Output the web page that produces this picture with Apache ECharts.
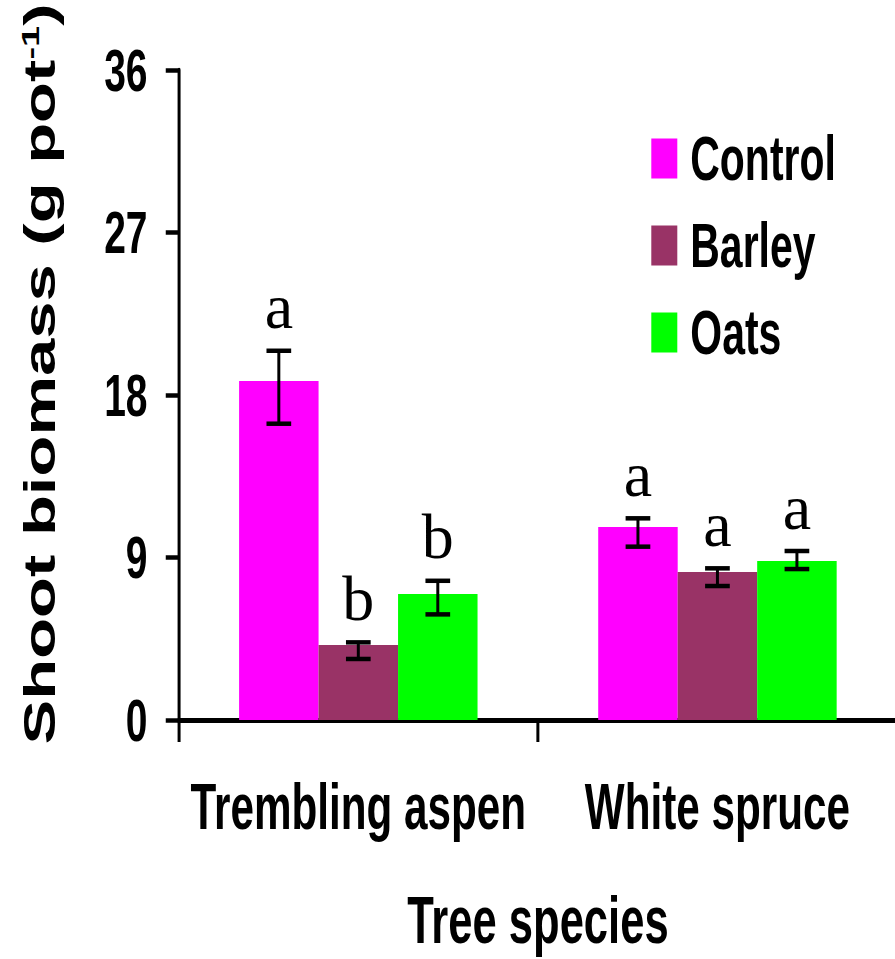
<!DOCTYPE html>
<html>
<head>
<meta charset="utf-8">
<script src="https://cdn.jsdelivr.net/npm/echarts@6/dist/echarts.min.js"></script>
<style>
  html, body { margin: 0; padding: 0; background: #fff; overflow: hidden; width: 895px; height: 959px; }
  /* The figure is drawn wide and squeezed horizontally, giving the narrow lettering of the original plot */
  #chart { width: 1377px; height: 959px; transform: scaleX(0.65); transform-origin: 0 0; }
</style>
</head>
<body>
<div id="chart"></div>
<script>
// ---- data ----
const species = ['Trembling aspen', 'White spruce'];
const treatments = ['Control', 'Barley', 'Oats'];

const controlMean = [18.77, 10.69];
const barleyMean  = [4.15, 8.20];
const oatsMean    = [6.98, 8.81];

// upper / lower ends of the error bars
const controlUpper = [20.45, 11.17];
const controlLower = [16.41, 9.60];
const barleyUpper  = [4.30, 8.40];
const barleyLower  = [3.38, 7.42];
const oatsUpper    = [7.71, 9.36];
const oatsLower    = [5.85, 8.36];

// letters from the mean-separation test
const controlLetters = ['a', 'a'];
const barleyLetters  = ['b', 'a'];
const oatsLetters    = ['b', 'a'];

const yMin = 0, yMax = 36, yStep = 9;

// ---- drawing ----
const SX = 0.65;            // horizontal squeeze applied to the container
const CAT_GAP = 0.336;      // gap between bar groups, share of category width
const FONT = '"Liberation Sans", Arial, sans-serif';
const colors = ['#FF00FF', '#993366', '#00FF00'];

const means   = [controlMean, barleyMean, oatsMean];
const uppers  = [controlUpper, barleyUpper, oatsUpper];
const lowers  = [controlLower, barleyLower, oatsLower];
const letters = [controlLetters, barleyLetters, oatsLetters];

const barSeries = treatments.map((t, k) => ({
  name: t,
  type: 'bar',
  data: means[k],
  barGap: '0%',
  barCategoryGap: (CAT_GAP * 100) + '%',
  itemStyle: { color: colors[k] },
  emphasis: { disabled: true },
  z: 2
}));

const errSeries = treatments.map((t, k) => ({
  name: t + ' error',
  type: 'custom',
  z: 5,
  silent: true,
  data: species.map((_, i) => [i, means[k][i], uppers[k][i], lowers[k][i]]),
  encode: { x: 0, y: [1, 2, 3] },
  renderItem(params, api) {
    const i = api.value(0);
    const band = api.size([1, 0])[0];
    const barW = band * (1 - CAT_GAP) / 3;
    const cx = api.coord([i, 0])[0] + (k - 1) * barW;
    const yHi = api.coord([i, api.value(2)])[1];
    const yLo = api.coord([i, api.value(3)])[1];
    const cap = 19;
    return {
      type: 'group',
      children: [
        { type: 'line', shape: { x1: cx, y1: yHi, x2: cx, y2: yLo }, style: { stroke: '#000', lineWidth: 4.6 } },
        { type: 'line', shape: { x1: cx - cap, y1: yHi, x2: cx + cap, y2: yHi }, style: { stroke: '#000', lineWidth: 4.5 } },
        { type: 'line', shape: { x1: cx - cap, y1: yLo, x2: cx + cap, y2: yLo }, style: { stroke: '#000', lineWidth: 4.5 } },
        {
          type: 'text', x: cx, y: yHi - 12, scaleX: 1 / SX,
          style: {
            text: letters[k][params.dataIndex], x: 0, y: 0,
            align: 'center', verticalAlign: 'bottom',
            fontSize: 64, fontFamily: '"Liberation Serif", "Times New Roman", serif',
            fill: '#000'
          }
        }
      ]
    };
  }
}));

const chart = echarts.init(document.getElementById('chart'), null, { renderer: 'svg' });
chart.setOption({
  animation: false,
  backgroundColor: '#fff',
  grid: { left: 275, top: 70, width: 1105, height: 650, containLabel: false, outerBoundsMode: 'none' },
  legend: {
    data: treatments,
    orient: 'vertical',
    left: 997,
    top: 122,
    icon: 'rect',
    itemWidth: 40,
    itemHeight: 40,
    itemGap: 24,
    selectedMode: false,
    textStyle: { fontSize: 63, fontWeight: 'bold', fontFamily: FONT, color: '#000', lineHeight: 40, padding: [0, 0, 0, 15] }
  },
  xAxis: {
    type: 'category',
    data: species,
    axisLine: { lineStyle: { color: '#000', width: 5 } },
    axisTick: { show: true, length: 22, interval: 0, alignWithLabel: false, lineStyle: { color: '#000', width: 4.6 } },
    axisLabel: { interval: 0, margin: 54, fontSize: 65, fontWeight: 'bold', fontFamily: FONT, color: '#000' },
    splitLine: { show: false },
    name: 'Tree species',
    nameLocation: 'middle',
    nameGap: 166,
    nameTextStyle: { fontSize: 67, fontWeight: 'bold', fontFamily: FONT, color: '#000' }
  },
  yAxis: {
    type: 'value',
    min: yMin,
    max: yMax,
    interval: yStep,
    axisLine: { show: true, lineStyle: { color: '#000', width: 4.6 } },
    axisTick: { show: true, length: 20, lineStyle: { color: '#000', width: 4.5 } },
    axisLabel: { margin: 48, fontSize: 60, fontWeight: 'bold', fontFamily: FONT, color: '#000' },
    splitLine: { show: false },
    name: '{a|Shoot biomass (g pot}{s|-1}{a|)}',
    nameLocation: 'middle',
    nameRotate: 90,
    nameGap: 180,
    nameTextStyle: {
      padding: [0, 0, 0, 42],
      rich: {
        a: { fontSize: 67, fontWeight: 'bold', fontFamily: FONT, color: '#000', lineHeight: 67 },
        s: { fontSize: 38, fontWeight: 'bold', fontFamily: FONT, color: '#000', lineHeight: 40, verticalAlign: 'top' }
      }
    }
  },
  series: barSeries.concat(errSeries)
});
</script>
</body>
</html>
